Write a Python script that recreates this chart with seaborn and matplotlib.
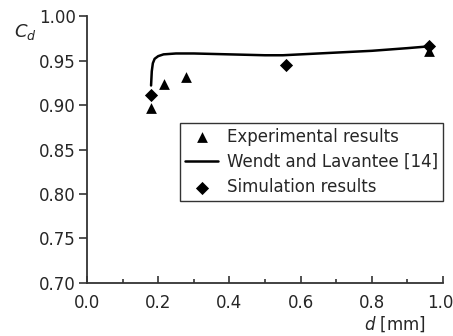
import numpy as np
import pandas as pd
import matplotlib
matplotlib.use("Agg")
import matplotlib.pyplot as plt
from matplotlib.ticker import MultipleLocator, FormatStrFormatter, FuncFormatter
import seaborn as sns

sns.set_style("ticks")
plt.rcParams['font.family'] = ['DejaVu Sans']
plt.rcParams['mathtext.fontset'] = 'dejavusans'

# experimental results
exp_d = [0.18, 0.216, 0.278, 0.96]
exp_cd = [0.897, 0.924, 0.931, 0.961]

# simulation results
sim_d = [0.18, 0.559, 0.96]
sim_cd = [0.911, 0.945, 0.966]

# Wendt and Lavantee curve
wl_d = [0.18, 0.182, 0.185, 0.19, 0.20, 0.215, 0.25, 0.30, 0.40, 0.50, 0.55, 0.60, 0.70, 0.80, 0.90, 0.96]
wl_cd = [0.922, 0.938, 0.947, 0.952, 0.955, 0.957, 0.958, 0.958, 0.957, 0.956, 0.956, 0.957, 0.959, 0.961, 0.964, 0.966]

exp_df = pd.DataFrame({"d": exp_d, "cd": exp_cd})
sim_df = pd.DataFrame({"d": sim_d, "cd": sim_cd})
wl_df = pd.DataFrame({"d": wl_d, "cd": wl_cd})

fig = plt.figure(figsize=(4.53, 3.36), dpi=100)
ax = fig.add_axes([0.192, 0.158, 0.786, 0.794])

sns.scatterplot(data=exp_df, x="d", y="cd", marker="^", s=60, color="black",
                edgecolor="black", linewidth=0, ax=ax, label="Experimental results", zorder=3)
sns.lineplot(data=wl_df, x="d", y="cd", color="black", linewidth=1.8, ax=ax,
             label="Wendt and Lavantee [14]", sort=False)
sns.scatterplot(data=sim_df, x="d", y="cd", marker="D", s=45, color="black",
                edgecolor="black", linewidth=0, ax=ax, label="Simulation results", zorder=4)

ax.set_xlim(0, 1.0)
ax.set_ylim(0.70, 1.00)
ax.xaxis.set_major_locator(MultipleLocator(0.2))
ax.xaxis.set_minor_locator(MultipleLocator(0.1))
ax.yaxis.set_major_locator(MultipleLocator(0.05))
# the 1.0 label is drawn separately below so it stays inside the figure
ax.xaxis.set_major_formatter(FuncFormatter(lambda v, p: "" if v > 0.99 else "%.1f" % v))
ax.yaxis.set_major_formatter(FormatStrFormatter("%.2f"))
ax.tick_params(axis="x", which="major", direction="in", length=5, width=1.2, labelsize=12, pad=8, color="#333333")
ax.tick_params(axis="x", which="minor", direction="in", length=3, width=1.2, color="#333333")
ax.tick_params(axis="y", which="major", direction="out", length=6, width=1.2, labelsize=12, pad=2, color="#333333")
sns.despine(ax=ax)
for s in ["left", "bottom"]:
    ax.spines[s].set_linewidth(1.3)
    ax.spines[s].set_color("#333333")

ax.annotate("1.0", xy=(1.0, 0), xycoords="axes fraction", xytext=(10, -11),
            textcoords="offset pixels", ha="right", va="top", fontsize=12, color="#262626")

ax.set_xlabel("")
ax.set_ylabel("")
fig.text(0.03, 0.905, r"$C_d$", fontsize=13, ha="left", va="center")
fig.text(0.94, 0.035, r"$d$ [mm]", fontsize=12, ha="right", va="center")

leg = ax.legend(loc="upper left", bbox_to_anchor=(0.261, 0.60), frameon=True, fancybox=False,
                edgecolor="black", fontsize=12, handlelength=2.0, borderpad=0.3,
                labelspacing=0.43, handletextpad=0.5, borderaxespad=0)
leg.get_frame().set_linewidth(1.0)

fig.savefig("out.png", dpi=100)
